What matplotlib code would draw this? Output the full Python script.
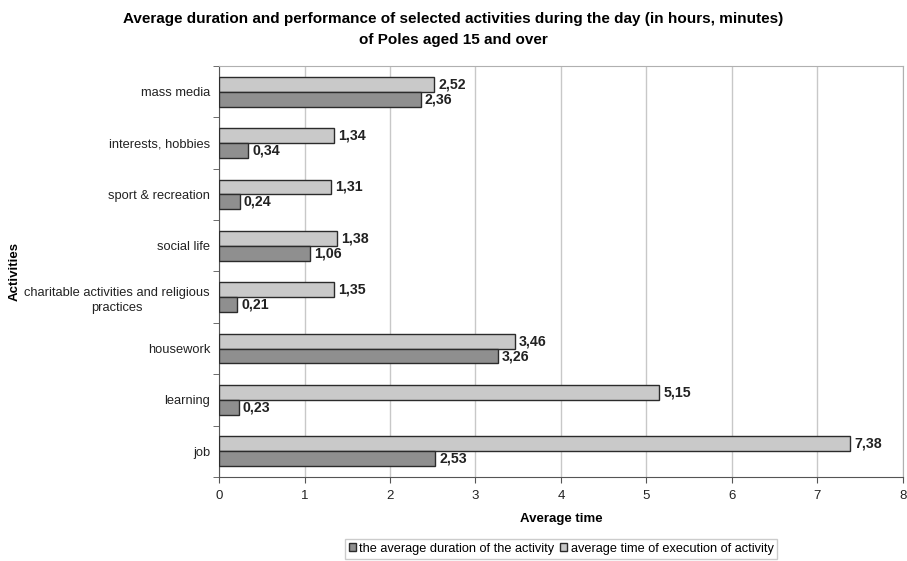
import numpy as np
import matplotlib.pyplot as plt
from matplotlib.patches import Patch

plt.rcParams['font.family'] = ['Liberation Sans', 'DejaVu Sans']

# activities listed top to bottom; values in hours,minutes as published
activities = ['mass media', 'interests, hobbies', 'sport & recreation', 'social life',
              'charitable activities and religious\npractices', 'housework', 'learning', 'job']
duration = [2.36, 0.34, 0.24, 1.06, 0.21, 3.26, 0.23, 2.53]
execution = [2.52, 1.34, 1.31, 1.38, 1.35, 3.46, 5.15, 7.38]

label_duration = 'the average duration of the activity'
label_execution = 'average time of execution of activity'
dark = '#8f8f8f'
light = '#c9c9c9'
edge = '#2b2b2b'

fig = plt.figure(figsize=(9.07, 5.61), dpi=100)
ax = fig.add_axes([0.2415, 0.1497, 0.754, 0.7327])

n = len(activities)
y = np.arange(n)[::-1]
h = 0.29

bars_exec = ax.barh(y + h / 2, execution, height=h, color=light, edgecolor=edge, linewidth=1.0, zorder=3)
bars_dur = ax.barh(y - h / 2, duration, height=h, color=dark, edgecolor=edge, linewidth=1.0, zorder=3)

def fmt(v):
    return f'{v:.2f}'.replace('.', ',')

for bars, vals in ((bars_exec, execution), (bars_dur, duration)):
    for b, v in zip(bars, vals):
        ax.annotate(fmt(v), (v, b.get_y() + b.get_height() / 2), xytext=(3, 0),
                    textcoords='offset points', va='center', ha='left',
                    fontsize=10.2, fontweight='bold', color='#222222')

ax.set_xlim(0, 8)
ax.set_ylim(-0.5, n - 0.5)
ax.set_xticks(range(0, 9))
ax.set_yticks(y)
ax.set_yticklabels(activities, multialignment='center', linespacing=1.4)
ax.set_yticks(np.arange(-0.5, n, 1.0), minor=True)
ax.tick_params(axis='y', which='major', length=0, pad=6.5, labelsize=9.3, colors='#222222')
ax.tick_params(axis='y', which='minor', length=4, color='#555555')
ax.tick_params(axis='x', length=4, color='#555555', labelsize=9.5, labelcolor='#222222', pad=5)

ax.grid(axis='x', color='#c8c8c8', linewidth=1.0, zorder=0)
for side in ('top', 'right'):
    ax.spines[side].set_color('#b0b0b0')
for side in ('left', 'bottom'):
    ax.spines[side].set_color('#555555')

ax.set_xlabel('Average time', fontsize=9.5, fontweight='bold', labelpad=8)
ax.set_ylabel('Activities', fontsize=9.5, fontweight='bold')
ax.yaxis.set_label_coords(-0.290, 0.5)

fig.suptitle('Average duration and performance of selected activities during the day (in hours, minutes)\n'
             'of Poles aged 15 and over', fontsize=11, fontweight='bold', y=0.978, linespacing=1.6)

handles = [Patch(facecolor=dark, edgecolor=edge), Patch(facecolor=light, edgecolor=edge)]
leg = fig.legend(handles, [label_duration, label_execution], loc='center', bbox_to_anchor=(0.6185, 0.0215),
                 ncol=2, frameon=True, fancybox=False, fontsize=9.2, handlelength=0.6, handleheight=0.6,
                 handletextpad=0.25, columnspacing=0.4, borderpad=0.3)
leg.get_frame().set_edgecolor('#c0c0c0')
leg.get_frame().set_linewidth(1.0)

fig.savefig('out.png', dpi=100)
